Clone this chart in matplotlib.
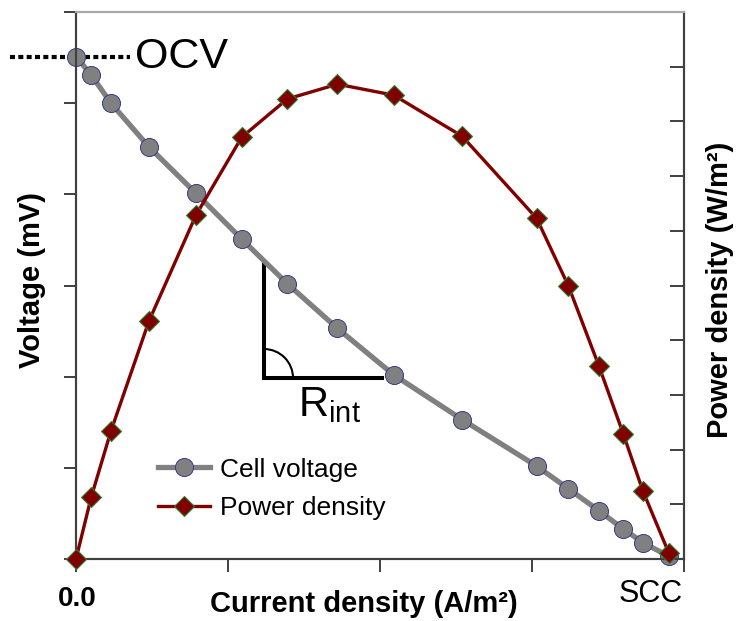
import matplotlib.pyplot as plt
from matplotlib.patches import Arc

plt.rcParams['font.family'] = ['Liberation Sans', 'DejaVu Sans']
plt.rcParams['mathtext.fontset'] = 'custom'
plt.rcParams['mathtext.rm'] = 'Liberation Sans'
plt.rcParams['mathtext.it'] = 'Liberation Sans'

# polarisation curve (arbitrary units, ticks left unlabelled)
current = [0.0, 0.10, 0.23, 0.48, 0.79, 1.09, 1.39, 1.72, 2.09, 2.54,
           3.03, 3.24, 3.44, 3.60, 3.73, 3.90]
voltage = [5.51, 5.31, 5.00, 4.52, 4.01, 3.51, 3.02, 2.53, 2.02, 1.53,
           1.02, 0.77, 0.53, 0.33, 0.18, 0.03]
power = [0.0, 1.13, 2.34, 4.35, 6.29, 7.71, 8.41, 8.68, 8.48, 7.73,
         6.23, 4.99, 3.53, 2.29, 1.24, 0.11]

ocv = voltage[0]
# slope triangle for the internal resistance
tri_x = [1.237, 2.013]
tri_y = [1.985, 3.258]

W, H = 738, 621
fig = plt.figure(figsize=(W / 100, H / 100), dpi=100)
ax = fig.add_axes([76 / W, 1 - 559 / H, (684 - 76) / W, (559 - 12) / H])
ax2 = ax.twinx()

dark = '#404040'
for a in (ax, ax2):
    for s in ('left', 'right', 'bottom'):
        a.spines[s].set_color(dark)
        a.spines[s].set_linewidth(1.5)
    a.spines['top'].set_color('#a8a8a8')
    a.spines['top'].set_linewidth(1.5)

ax.set_xlim(0, 4)
ax.set_ylim(0, 6)
ax2.set_ylim(0, 10)

ax.set_xticks(range(0, 5))
ax.set_yticks(range(0, 7))
ax2.set_yticks(range(0, 11))
ax.set_xticklabels([])
ax.set_yticklabels([])
ax2.set_yticklabels([])
ax.tick_params(axis='both', direction='out', length=9, width=1.4, color=dark)
ax2.tick_params(axis='y', direction='in', length=10, width=1.4, color=dark)

l1, = ax.plot(current, voltage, '-o', color='#808080', lw=3.8, ms=13,
              mfc='#808080', mec='#3a3a8a', mew=0.7, clip_on=False, zorder=3)
l2, = ax2.plot(current, power, '-D', color='#800000', lw=2.4, ms=10.5,
               mfc='#800000', mec='#2e7d32', mew=0.8, clip_on=False, zorder=3)

# OCV marker line
ax.plot([-0.434, 0.355], [ocv, ocv], color='black', lw=3,
        dashes=(1.2, 0.8), clip_on=False)
ax.text(0.385, ocv, 'OCV', fontsize=31, va='center', ha='left')

# R_int triangle
ax.plot([tri_x[0], tri_x[0], tri_x[1]], [tri_y[1], tri_y[0], tri_y[0]],
        color='black', lw=2.9, solid_joinstyle='miter')
ax.add_patch(Arc((tri_x[0], tri_y[0]), 2 * 29 / 152, 2 * 29 / 91.17,
                 theta1=0, theta2=90, color='black', lw=1.5))
ax.text(1.46, 1.69, r'R$_{\mathrm{int}}$', fontsize=30, va='center', ha='left')

leg = ax2.legend([l1, l2], ['Cell voltage', 'Power density'], frameon=False,
                 fontsize=19, handlelength=2.0, handletextpad=0.35,
                 labelspacing=0.55, loc='upper left',
                 bbox_to_anchor=(147 / W, 1 - 447 / H),
                 bbox_transform=fig.transFigure, borderaxespad=0)

fig.text(32 / W, 1 - 280 / H, 'Voltage (mV)', rotation=90, fontsize=21,
         fontweight='bold', ha='center', va='center')
fig.text(720 / W, 1 - 290 / H, 'Power density (W/m²)', rotation=90,
         fontsize=21, fontweight='bold', ha='center', va='center')
fig.text(364 / W, 1 - 604 / H, 'Current density (A/m²)', fontsize=21,
         fontweight='bold', ha='center', va='center')
fig.text(77 / W, 1 - 599 / H, '0.0', fontsize=20, fontweight='bold',
         ha='center', va='center')
fig.text(651 / W, 1 - 594 / H, 'SCC', fontsize=22, ha='center', va='center')

fig.savefig('out.png', dpi=100)
